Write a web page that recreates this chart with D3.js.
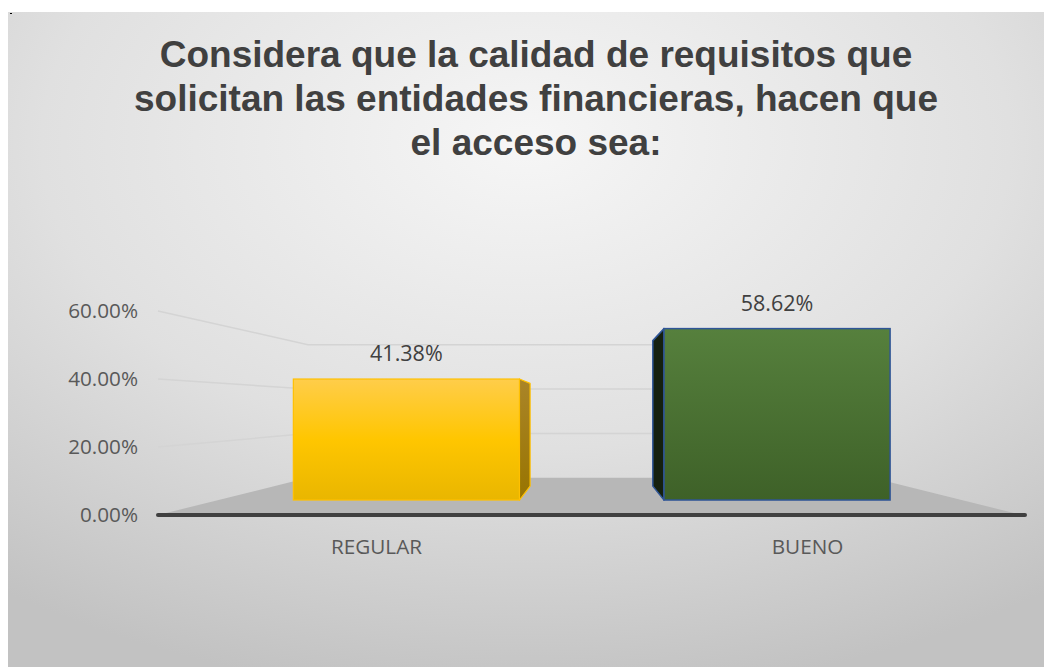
<!DOCTYPE html>
<html>
<head>
<meta charset="utf-8">
<script src="https://cdn.jsdelivr.net/npm/d3@7"></script>
<style>
  body { margin: 0; background: #fff; }
  svg { display: block; }
  .tick-label { font-family: "Open Sans", sans-serif; font-size: 20.7px; fill: #595959; }
  .cat-label { font-family: "Open Sans", sans-serif; font-size: 20.7px; fill: #595959; }
  .value-label { font-family: "Open Sans", sans-serif; font-size: 21.5px; fill: #404040; }
  .title { font-family: "Liberation Sans", Arial, sans-serif; font-size: 37px; font-weight: bold; fill: #404040; }
</style>
</head>
<body>
<svg id="chart"></svg>
<script>
const categories = ["REGULAR", "BUENO"]
const values = [0.4138, 0.5862]
const yTicks = [0, 0.2, 0.4, 0.6]
const titleLines = [
	"Considera que la calidad de requisitos que",
	"solicitan las entidades financieras, hacen que",
	"el acceso sea:"
]

const W = 1044, H = 667

const svg = d3.select("#chart")
	.attr("width", W)
	.attr("height", H)

const defs = svg.append("defs")

// background gradient of the chart area
const bg = defs.append("radialGradient")
	.attr("id", "bg")
	.attr("cx", "50%").attr("cy", "20%").attr("r", "85%")
	.attr("gradientUnits", "objectBoundingBox")
bg.append("stop").attr("offset", "0%").attr("stop-color", "#f6f6f6")
bg.append("stop").attr("offset", "55%").attr("stop-color", "#e0e0e0")
bg.append("stop").attr("offset", "100%").attr("stop-color", "#c2c2c2")

const gradYellow = defs.append("linearGradient").attr("id", "gYellow")
	.attr("x1", 0).attr("y1", 0).attr("x2", 0).attr("y2", 1)
gradYellow.append("stop").attr("offset", "0%").attr("stop-color", "#ffcd4a")
gradYellow.append("stop").attr("offset", "50%").attr("stop-color", "#ffc600")
gradYellow.append("stop").attr("offset", "100%").attr("stop-color", "#e9b600")

const gradGreen = defs.append("linearGradient").attr("id", "gGreen")
	.attr("x1", 0).attr("y1", 0).attr("x2", 0).attr("y2", 1)
gradGreen.append("stop").attr("offset", "0%").attr("stop-color", "#56803d")
gradGreen.append("stop").attr("offset", "100%").attr("stop-color", "#3e6128")

const gradYellowSide = defs.append("linearGradient").attr("id", "gYellowSide")
	.attr("x1", 0).attr("y1", 0).attr("x2", 0).attr("y2", 1)
gradYellowSide.append("stop").attr("offset", "0%").attr("stop-color", "#aa8528")
gradYellowSide.append("stop").attr("offset", "100%").attr("stop-color", "#987400")

const styles = [
	{ front: "url(#gYellow)", side: "url(#gYellowSide)", stroke: "#ffc000", sw: 1.2 },
	{ front: "url(#gGreen)", side: "#15200f", stroke: "#2f5597", sw: 1.5 }
]

svg.append("rect")
	.attr("x", 8).attr("y", 12)
	.attr("width", W - 8).attr("height", H - 12)
	.attr("fill", "url(#bg)")

svg.append("rect")
	.attr("x", 10).attr("y", 13).attr("width", 2).attr("height", 1)
	.attr("fill", "#000")

// title
svg.append("g")
	.selectAll("text")
	.data(titleLines)
	.join("text")
	.attr("class", "title")
	.attr("x", 536)
	.attr("y", (d, i) => 67 + i * 44)
	.attr("text-anchor", "middle")
	.text(d => d)

// front-plane scales, then a simple perspective toward a vanishing point
const floorL = 158, floorR = 1022

const x = d3.scaleBand()
	.domain(categories)
	.range([161, 1023])
	.paddingInner(0.39)
	.paddingOuter(0.195)

const y = d3.scaleLinear()
	.domain([0, 1])
	.range([515, 175])

const vp = [590, 408]
const sBack = 0.653   // back wall
const sBarFront = 0.86
const sBarBack = 0.73

function project(px, py, s) {
	return [vp[0] + (px - vp[0]) * s, vp[1] + (py - vp[1]) * s]
}

// floor
svg.append("path")
	.attr("d", d3.line()([
		project(floorL, y(0), 1), project(floorR, y(0), 1),
		project(floorR, y(0), sBack), project(floorL, y(0), sBack)
	]) + "Z")
	.attr("fill", "#b7b7b7")

// gridlines on side wall and back wall
const grid = svg.append("g")
	.attr("fill", "none")
	.attr("stroke", "#d4d4d4")
	.attr("stroke-width", 1.5)
grid.selectAll("path")
	.data(yTicks.filter(d => d > 0))
	.join("path")
	.attr("d", d => d3.line()([
		project(floorL, y(d), 1),
		project(floorL, y(d), sBack),
		project(floorR, y(d), sBack)
	]))

// axis line
svg.append("line")
	.attr("x1", floorL).attr("x2", floorR + 3)
	.attr("y1", y(0)).attr("y2", y(0))
	.attr("stroke", "#404040")
	.attr("stroke-width", 4)
	.attr("stroke-linecap", "round")

// bars
const bars = svg.append("g")
categories.forEach((c, i) => {
	const x0 = x(c), x1 = x(c) + x.bandwidth()
	const yt = y(values[i]), yb = y(0)
	const st = styles[i]
	const g = bars.append("g")
	const sideX = x1 < vp[0] ? x1 : (x0 > vp[0] ? x0 : null)
	if (sideX !== null) {
		g.append("path")
			.attr("d", d3.line()([
				project(sideX, yt, sBarFront), project(sideX, yt, sBarBack),
				project(sideX, yb, sBarBack), project(sideX, yb, sBarFront)
			]) + "Z")
			.attr("fill", st.side)
			.attr("stroke", st.stroke)
			.attr("stroke-width", st.sw)
			.attr("stroke-linejoin", "round")
	}
	const p0 = project(x0, yt, sBarFront), p1 = project(x1, yb, sBarFront)
	g.append("rect")
		.attr("x", p0[0]).attr("y", p0[1])
		.attr("width", p1[0] - p0[0]).attr("height", p1[1] - p0[1])
		.attr("fill", st.front)
		.attr("stroke", st.stroke)
		.attr("stroke-width", st.sw)

	g.append("text")
		.attr("class", "value-label")
		.attr("x", (p0[0] + p1[0]) / 2)
		.attr("y", p0[1] - 18)
		.attr("text-anchor", "middle")
		.text(d3.format(".2%")(values[i]))
})

// y tick labels on the front edge
svg.append("g")
	.selectAll("text")
	.data(yTicks)
	.join("text")
	.attr("class", "tick-label")
	.attr("x", 138)
	.attr("y", d => y(d) + 7)
	.attr("text-anchor", "end")
	.text(d => d3.format(".2%")(d))

// category labels
svg.append("g")
	.selectAll("text")
	.data(categories)
	.join("text")
	.attr("class", "cat-label")
	.attr("x", d => x(d) + x.bandwidth() / 2)
	.attr("y", 554)
	.attr("text-anchor", "middle")
	.text(d => d)
</script>
</body>
</html>
